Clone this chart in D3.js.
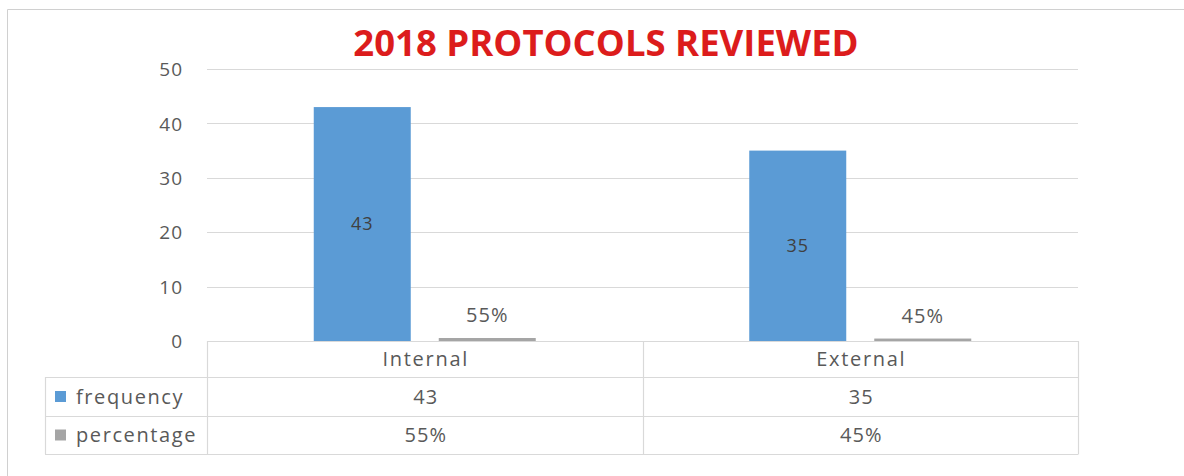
<!DOCTYPE html>
<html><head><meta charset="utf-8">
<script src="https://cdn.jsdelivr.net/npm/d3@7"></script>
<style>
html,body{margin:0;padding:0;background:#fff;}
svg{display:block;font-family:"Open Sans",sans-serif;}
</style></head>
<body>
<svg id="chart" width="1184" height="476"></svg>
<script>
const categories = ["Internal", "External"];
const seriesNames = ["frequency", "percentage"];
const frequency = [43, 35];
const percentage = [0.55, 0.45];
const percentageLabels = ["55%", "45%"];
const yTicks = [0, 10, 20, 30, 40, 50];
const title = "2018 PROTOCOLS REVIEWED";

const colors = {frequency: "#5b9bd5", percentage: "#a5a5a5"};
const W = 1184, H = 476;
const plot = {left: 207, right: 1078, top: 69, bottom: 341};
const table = {left: 45, rows: [341, 377, 416, 454]};
const grid = "#d9d9d9", textCol = "#595959";

const svg = d3.select("#chart");
svg.append("rect").attr("width", W).attr("height", H).attr("fill", "#fff");
// outer chart border
svg.append("path").attr("d", `M7.5,${H}V9.5H${W}`).attr("fill", "none").attr("stroke", "#d0d0d0");

const y = d3.scaleLinear().domain([0, 50]).range([plot.bottom, plot.top]);
const x0 = d3.scaleBand().domain(categories).range([plot.left, plot.right]);
const x1 = d3.scaleBand().domain(seriesNames).range([0, x0.bandwidth()])
  .paddingInner(0.224).paddingOuter(0.854);

// gridlines
svg.append("g").selectAll("line").data(yTicks.filter(d => d > 0)).join("line")
  .attr("x1", plot.left).attr("x2", plot.right)
  .attr("y1", d => Math.round(y(d)) + 0.5).attr("y2", d => Math.round(y(d)) + 0.5)
  .attr("stroke", grid).attr("stroke-width", 1.2);

// y axis labels
const yAxis = d3.axisLeft(y).tickValues(yTicks).tickSize(0).tickPadding(0);
const ya = svg.append("g").attr("transform", `translate(183,0)`).call(yAxis);
ya.select(".domain").remove();
ya.selectAll("text").attr("fill", textCol).style("font-size", "19px")
  .style("font-family", '"Open Sans",sans-serif').style("letter-spacing", "1px").attr("dy", "0.35em");

// bars
const rows = categories.map((c, i) => ({cat: c, frequency: frequency[i], percentage: percentage[i], pl: percentageLabels[i]}));
const g = svg.append("g");
rows.forEach(r => {
  seriesNames.forEach(s => {
    const bx = x0(r.cat) + x1(s);
    const h = Math.max(1.5, y(0) - y(r[s]));
    g.append("rect").attr("x", bx).attr("y", y(0) - h).attr("width", x1.bandwidth()).attr("height", h)
      .attr("fill", colors[s]);
  });
  // labels
  g.append("text").attr("x", x0(r.cat) + x1("frequency") + x1.bandwidth() / 2)
    .attr("y", (y(r.frequency) + y(0)) / 2).attr("dy", "0.35em").attr("text-anchor", "middle")
    .attr("fill", "#404040").style("font-size", "18px").style("letter-spacing", "1px").text(r.frequency);
  g.append("text").attr("x", x0(r.cat) + x1("percentage") + x1.bandwidth() / 2)
    .attr("y", y(r.percentage) - 16).attr("text-anchor", "middle")
    .attr("fill", textCol).style("font-size", "20px").style("letter-spacing", "1px").text(r.pl);
});

// data table
const tg = svg.append("g").attr("stroke", grid).attr("stroke-width", 1.2);
const tr = table.rows;
tg.append("line").attr("x1", plot.left).attr("x2", plot.right).attr("y1", tr[0] + 0.5).attr("y2", tr[0] + 0.5);
[tr[1], tr[2], tr[3]].forEach(v => tg.append("line").attr("x1", table.left).attr("x2", plot.right).attr("y1", v + 0.5).attr("y2", v + 0.5));
tg.append("line").attr("x1", table.left + 0.5).attr("x2", table.left + 0.5).attr("y1", tr[1]).attr("y2", tr[3]);
[plot.left, x0(categories[1]), plot.right].forEach(v => tg.append("line").attr("x1", Math.round(v) + 0.5).attr("x2", Math.round(v) + 0.5).attr("y1", tr[0]).attr("y2", tr[3] + 0.5));

const tt = svg.append("g").attr("fill", textCol).style("font-size", "20px").attr("text-anchor", "middle");
categories.forEach((c, i) => {
  const cx = x0(c) + x0.bandwidth() / 2;
  tt.append("text").attr("x", cx + 1).attr("y", (tr[0] + tr[1]) / 2).attr("dy", "0.35em").style("letter-spacing", "1.7px").text(c);
  tt.append("text").attr("x", cx + 1).attr("y", (tr[1] + tr[2]) / 2).attr("dy", "0.35em").style("letter-spacing", "1px").text(frequency[i]);
  tt.append("text").attr("x", cx + 1).attr("y", (tr[2] + tr[3]) / 2).attr("dy", "0.35em").style("letter-spacing", "1px").text(percentageLabels[i]);
});
seriesNames.forEach((s, i) => {
  const cy = (tr[i + 1] + tr[i + 2]) / 2;
  svg.append("rect").attr("x", 55).attr("y", cy - 5.5).attr("width", 11).attr("height", 11).attr("fill", colors[s]);
  svg.append("text").attr("x", 76).attr("y", cy).attr("dy", "0.35em").attr("fill", textCol)
    .style("font-size", "20px").style("letter-spacing", "1.6px").text(s);
});

// title
const t = svg.append("text").attr("x", 606).attr("y", 56).attr("text-anchor", "middle")
  .attr("fill", "#dc1c1c").style("font-weight", "bold").style("font-size", "30px")
  .style("font-family", '"Open Sans",sans-serif').text(title);
const tw = t.node().getComputedTextLength();
const target = 505;
t.style("font-size", (30 * target / tw).toFixed(1) + "px");
</script>
</body></html>
